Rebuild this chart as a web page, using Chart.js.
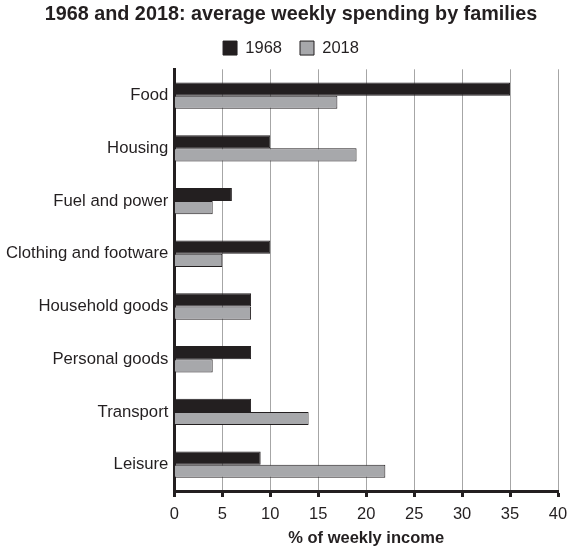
<!DOCTYPE html>
<html>
<head>
<meta charset="utf-8">
<script src="https://cdn.jsdelivr.net/npm/chart.js@4/dist/chart.umd.min.js"></script>
<style>
  html, body { margin: 0; padding: 0; background: #fff; }
  #wrap { width: 578px; height: 547px; position: relative; }
</style>
</head>
<body>
<div id="wrap"><canvas id="spendChart"></canvas></div>
<script>
// data
const categories = ['Food', 'Housing', 'Fuel and power', 'Clothing and footware',
    'Household goods', 'Personal goods', 'Transport', 'Leisure'];
const spending1968 = [35, 10, 6, 10, 8, 8, 8, 9];
const spending2018 = [17, 19, 4, 5, 8, 4, 14, 22];
const xTicks = [0, 5, 10, 15, 20, 25, 30, 35, 40];

const FONT = "'Liberation Sans', Arial, sans-serif";

// a little extra room under the legend, and centre title/legend on the whole canvas
const legendGap = {
    id: 'legendGap',
    beforeLayout: function(chart) {
        const lg = chart.legend;
        if (lg && !lg._gapPatched) {
            const fit = lg.fit.bind(lg);
            lg.fit = function() {
                fit();
                this.height += 3;
            };
            lg._gapPatched = true;
        }
    },
    afterLayout: function(chart) {
        const shift = 12;
        [chart.legend, chart.titleBlock].forEach(function(box) {
            if (box) {
                box.left += shift;
                box.right += shift;
            }
        });
    }
};

const ctx = document.getElementById('spendChart').getContext('2d');
const spendChart = new Chart(ctx, {
    type: 'bar',
    data: {
        labels: categories,
        datasets: [{
            label: '1968',
            data: spending1968,
            backgroundColor: '#231f20',
            borderColor: '#231f20',
            borderWidth: 1
        }, {
            label: '2018',
            data: spending2018,
            backgroundColor: '#a7a8ab',
            borderColor: '#231f20',
            borderWidth: 1
        }]
    },
    plugins: [legendGap],
    options: {
        indexAxis: 'y',
        responsive: true,
        maintainAspectRatio: false,
        animation: false,
        layout: {
            padding: { left: 0, right: 20, top: 0, bottom: 0 }
        },
        datasets: {
            bar: {
                categoryPercentage: 0.5,
                barPercentage: 1.0
            }
        },
        plugins: {
            title: {
                display: true,
                text: '1968 and 2018: average weekly spending by families',
                color: '#231f20',
                font: { family: FONT, size: 19.8, weight: 'bold', lineHeight: 1 },
                padding: { top: 5, bottom: -3 }
            },
            legend: {
                display: true,
                labels: {
                    color: '#231f20',
                    font: { family: FONT, size: 16.5 },
                    boxWidth: 14,
                    boxHeight: 14,
                    padding: 18
                }
            },
            tooltip: { enabled: false }
        },
        scales: {
            x: {
                min: 0,
                max: 40,
                afterBuildTicks: function(axis) {
                    axis.ticks = xTicks.map(v => ({ value: v }));
                },
                grid: {
                    color: '#a6a6a6',
                    lineWidth: 1,
                    drawTicks: true,
                    tickLength: 6,
                    tickColor: '#231f20',
                    tickWidth: 3
                },
                border: { display: true, color: '#231f20', width: 3 },
                ticks: {
                    color: '#231f20',
                    font: { family: FONT, size: 16.5, lineHeight: 1 },
                    padding: 9
                },
                title: {
                    display: true,
                    text: '% of weekly income',
                    color: '#231f20',
                    font: { family: FONT, size: 16.5, weight: 'bold', lineHeight: 1 },
                    padding: { top: -1, bottom: 0 }
                }
            },
            y: {
                grid: { display: false, drawTicks: false },
                border: { display: true, color: '#231f20', width: 3 },
                ticks: {
                    color: '#231f20',
                    font: { family: FONT, size: 16.7 },
                    padding: 6
                }
            }
        }
    }
});
</script>
</body>
</html>
